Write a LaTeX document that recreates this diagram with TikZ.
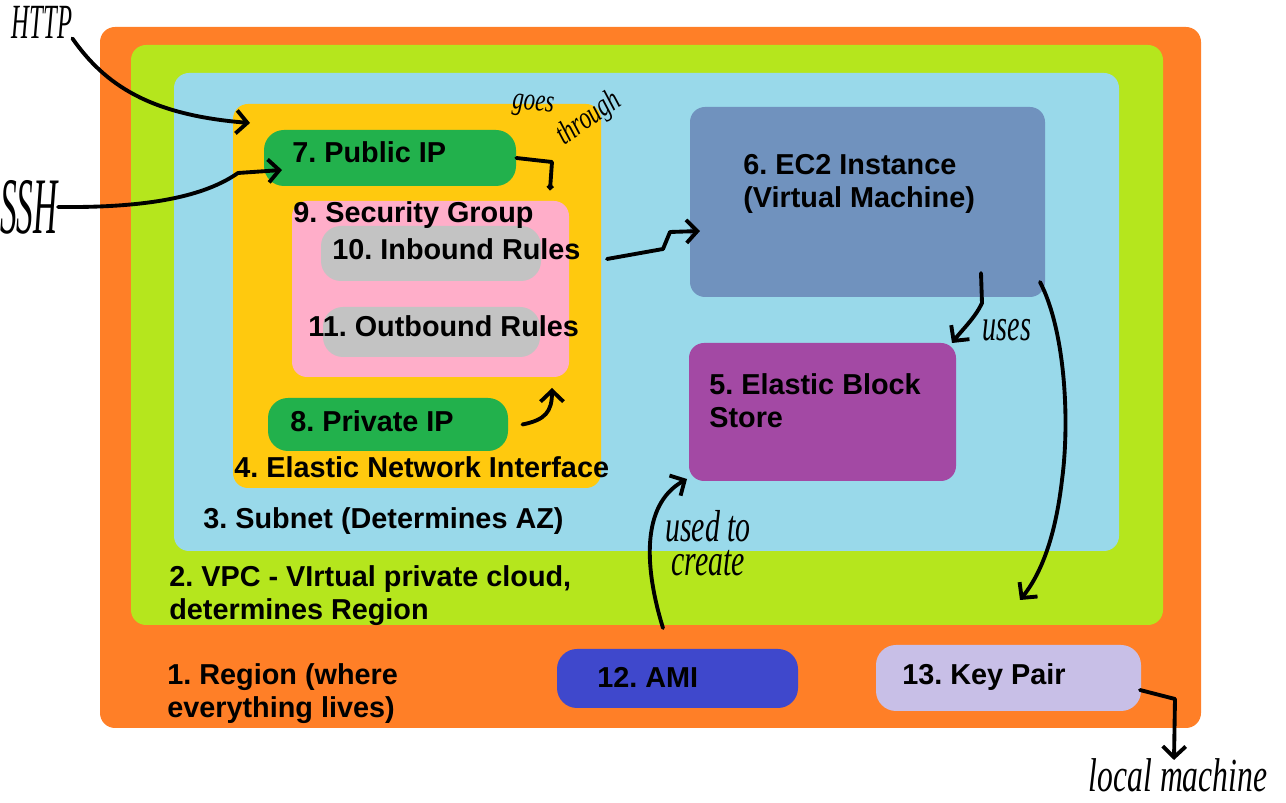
\documentclass[tikz,border=0pt]{standalone}
\usepackage{fontspec}
\setmainfont{Liberation Sans}
\newfontfamily\handfamily{Liberation Serif}
\usetikzlibrary{fit,arrows.meta}

\definecolor{regionorange}{HTML}{FF7F27}
\definecolor{vpcgreen}{HTML}{B5E61D}
\definecolor{subnetblue}{HTML}{99D9EA}
\definecolor{eniyellow}{HTML}{FFC90E}
\definecolor{ipgreen}{HTML}{22B14C}
\definecolor{sgpink}{HTML}{FFAEC9}
\definecolor{rulegray}{HTML}{C3C3C3}
\definecolor{ec2blue}{HTML}{7092BE}
\definecolor{ebspurple}{HTML}{A349A4}
\definecolor{amiblue}{HTML}{3F48CC}
\definecolor{keylilac}{HTML}{C8BFE7}

\begin{document}
\frenchspacing
\begin{tikzpicture}[x=0.02cm,y=-0.02cm,
    box/.style={inner sep=0pt,rounded corners=0.3cm},
    pill/.style={inner sep=0pt,rounded corners=0.4cm},
    lbl/.style={anchor=base west,inner sep=0pt,align=left,
      font=\bfseries\fontsize{16.4}{19}\selectfont},
    hand/.style={inner sep=0pt,align=center,font=\handfamily\itshape},
    scrawl/.style={line width=2.2pt,line cap=round,line join=round},
    >={Straight Barb[length=2.2mm,width=4.6mm]}]
  \useasboundingbox (0,0) rectangle (1286,803);

  % nested boxes
  \node[box,fill=regionorange,fit={(100,27) (1201,728)}] (region) {};
  \node[box,fill=vpcgreen,fit={(131,45) (1163,625)}] (vpc) {};
  \node[box,fill=subnetblue,fit={(174,73) (1119,551)}] (subnet) {};
  \node[box,fill=eniyellow,fit={(233,104) (601,488)}] (eni) {};
  \node[pill,fill=ipgreen,fit={(264,130) (516,186)}] (pubip) {};
  \node[box,fill=sgpink,fit={(292,201) (569,377)}] (sg) {};
  \node[pill,fill=rulegray,fit={(321,226) (541,281)}] (inbound) {};
  \node[pill,fill=rulegray,fit={(323,307) (540,357)}] (outbound) {};
  \node[pill,fill=ipgreen,fit={(268,398) (508,451)}] (privip) {};
  \node[box,fill=ec2blue,fit={(690,107) (1045,297)}] (ec2) {};
  \node[box,fill=ebspurple,fit={(689,343) (956,481)}] (ebs) {};
  \node[pill,fill=amiblue,fit={(557,649) (798,708)}] (ami) {};
  \node[pill,fill=keylilac,fit={(876,645) (1141,711)}] (keypair) {};

  % labels (two-line ones sit on their last line)
  \node[lbl] (regiontxt) at (167,718) {1. Region (where\\everything lives)};
  \node[lbl] (vpctxt) at (169,620) {2. VPC - VIrtual private cloud,\\determines Region};
  \node[lbl] (subnettxt) at (203,529) {3. Subnet (Determines AZ)};
  \node[lbl] (enitxt) at (234,478) {4. Elastic Network Interface};
  \node[lbl] (ebstxt) at (709,428) {5. Elastic Block\\Store};
  \node[lbl] (ec2txt) at (743,208) {6. EC2 Instance\\(Virtual Machine)};
  \node[lbl] (pubiptxt) at (292,163) {7. Public IP};
  \node[lbl] (priviptxt) at (290,432) {8. Private IP};
  \node[lbl] (sgtxt) at (293,223) {9. Security Group};
  \node[lbl] (inboundtxt) at (332,260) {10. Inbound Rules};
  \node[lbl] (outboundtxt) at (308,337) {11. Outbound Rules};
  \node[lbl] (amitxt) at (597,688) {12. AMI};
  \node[lbl] (keypairtxt) at (902,685) {13. Key Pair};

  % handwritten notes
  \node[hand,font=\handfamily\itshape\fontsize{14}{14}\selectfont] (http) at (42,22)
    {\scalebox{1}[2]{HTTP}};
  \node[hand,font=\handfamily\itshape\fontsize{19}{19}\selectfont] (ssh) at (29,207)
    {\scalebox{1}[2.4]{SSH}};
  \node[hand,rotate=-5,font=\handfamily\itshape\fontsize{13}{13}\selectfont] (goes) at (533,106)
    {\scalebox{1}[1.4]{goes}};
  \node[hand,rotate=35,font=\handfamily\itshape\fontsize{13}{13}\selectfont] (through) at (589,119)
    {\scalebox{1}[1.4]{through}};
  \node[hand,font=\handfamily\itshape\fontsize{16}{16}\selectfont] (uses) at (1007,330)
    {\scalebox{1}[1.6]{uses}};
  \node[hand,font=\handfamily\itshape\fontsize{17}{17}\selectfont] (create) at (708,543)
    {\scalebox{1}[1.5]{\shortstack{used to\\create}}};
  \node[hand,font=\handfamily\itshape\fontsize{18}{18}\selectfont] (local) at (1178,775)
    {\scalebox{1}[1.5]{local machine}};

  % hand drawn connectors
  \coordinate (httpin) at (250,123);
  \coordinate (pubin) at (282,170);
  \coordinate (sgin) at (550,190);
  \coordinate (sgbelow) at (552,388);
  \coordinate (rulesout) at (607,259);
  \coordinate (ec2in) at (700,231);
  \coordinate (ec2out) at (981,273);
  \coordinate (ebsin) at (952,343);
  \coordinate (ec2side) at (1040,282);
  \coordinate (vpcend) at (1020,600);
  \coordinate (amiout) at (663,628);
  \coordinate (ebsbelow) at (687,479);
  \coordinate (keyout) at (1140,690);
  \coordinate (localin) at (1174,760);

  \draw[scrawl,->] (http.south east) .. controls (105,85) and (150,115) .. (httpin);
  \draw[scrawl,->] (ssh.east) .. controls (150,208) and (205,196) .. (238,173) -- (pubin);
  \draw[scrawl,-{Circle[length=3.5pt]}] (pubip.east) -- (552,162) -- (sgin);
  \draw[scrawl,->] ([xshift=8pt]privip.east) .. controls (545,420) and (552,412) .. (sgbelow);
  \draw[scrawl,->] (rulesout) -- (663,249) -- (670,232) -- (ec2in);
  \draw[scrawl,->] (ec2out) -- (982,303) .. controls (975,318) and (962,330) .. (ebsin);
  \draw[scrawl,->] (ec2side) .. controls (1065,330) and (1070,420) .. (1062,480)
    .. controls (1055,540) and (1040,575) .. (vpcend);
  \draw[scrawl,->] (amiout) .. controls (645,570) and (640,505) .. (ebsbelow);
  \draw[scrawl,->] (keyout) -- (1175,699) -- (localin);
\end{tikzpicture}
\end{document}
